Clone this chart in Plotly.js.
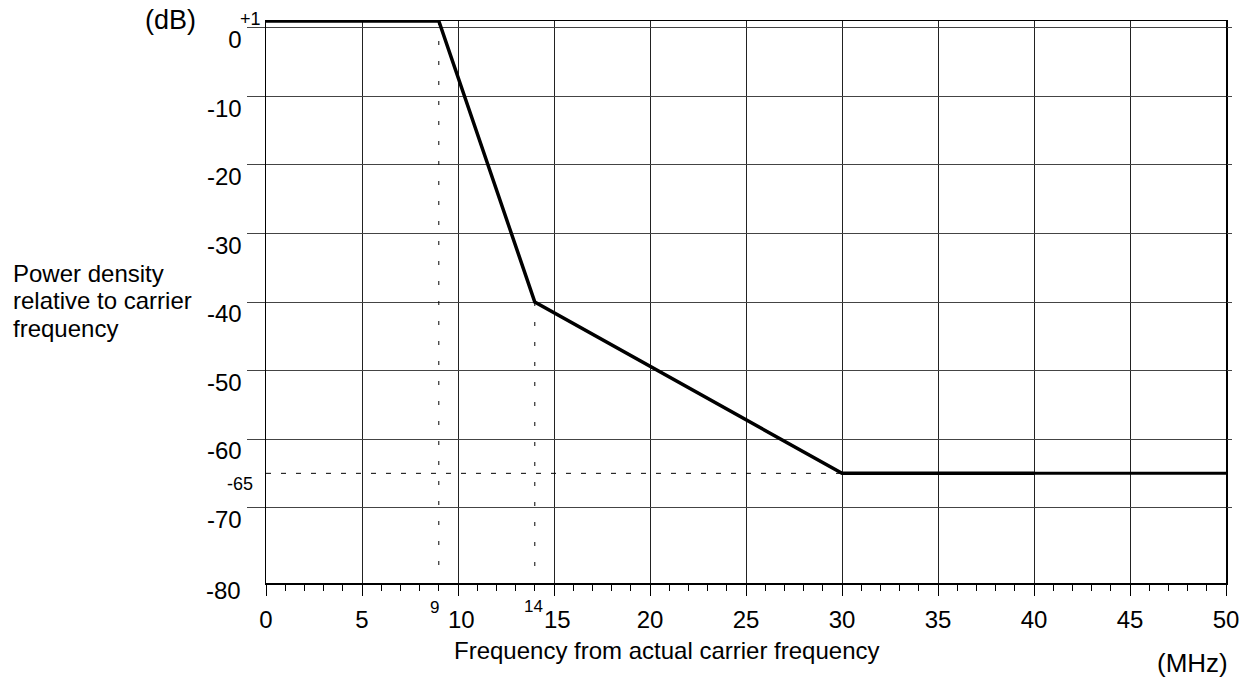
<!DOCTYPE html>
<html>
<head>
<meta charset="utf-8">
<script src="https://cdn.plot.ly/plotly-3.0.1.min.js"></script>
<style>html,body{margin:0;padding:0;background:#fff;}#chart{width:1247px;height:678px;}</style>
</head>
<body>
<div id="chart"></div>
<script>
// Mask data (frequency in MHz, relative power density in dB)
const maskFreq = [0, 9, 14, 30, 40];
const maskDb = [1, 1, -40, -65, -65];
const tailFreq = [40, 50];
const tailDb = [-65, -65];

// Dotted reference lines
const ref9Freq = [9, 9];
const ref9Db = [1, -80];
const ref14Freq = [14, 14];
const ref14Db = [-40, -80];
const ref65Freq = [0, 30];
const ref65Db = [-65, -65];

// Axis ticks
const xTicks = [0, 5, 10, 15, 20, 25, 30, 35, 40, 45, 50];
const xTickText = ['0', '5', '\u00a010', '\u00a015', '20', '25', '30', '35', '40', '45', '50'];
const yTicks = [0, -10, -20, -30, -40, -50, -60, -70];
const yBottomLabel = -80;

const FONT = 'Liberation Sans, Arial, sans-serif';

const traces = [
  {x: ref9Freq, y: ref9Db, mode: 'lines', line: {color: '#000', width: 1, dash: '4px,16px'}, hoverinfo: 'skip'},
  {x: ref14Freq, y: ref14Db, mode: 'lines', line: {color: '#000', width: 1, dash: '4px,16px'}, hoverinfo: 'skip'},
  {x: ref65Freq, y: ref65Db, mode: 'lines', line: {color: '#000', width: 1, dash: '5px,10px'}, hoverinfo: 'skip', yaxis: 'y2'},
  {x: maskFreq, y: maskDb, mode: 'lines', line: {color: '#000', width: 3.5}, hoverinfo: 'skip'},
  {x: tailFreq, y: tailDb, mode: 'lines', line: {color: '#000', width: 3}, hoverinfo: 'skip'}
];

const layout = {
  width: 1247, height: 678,
  margin: {l: 266, r: 21, t: 21, b: 95},
  paper_bgcolor: '#fff', plot_bgcolor: '#fff',
  showlegend: false,
  font: {family: FONT, color: '#000', size: 24},
  xaxis: {
    range: [0, 50], tickvals: xTicks, ticktext: xTickText,
    showgrid: true, gridcolor: '#222', gridwidth: 1,
    showline: true, linecolor: '#000', linewidth: 1.5, mirror: true,
    ticks: 'outside', ticklen: 11, tickcolor: '#000', tickwidth: 1,
    minor: {dtick: 1, tick0: 0, ticks: 'outside', ticklen: 6, tickcolor: '#000', tickwidth: 1, showgrid: false},
    tickfont: {family: FONT, size: 24, color: '#000'},
    ticklabelstandoff: 4,
    zeroline: false, fixedrange: true
  },
  yaxis: {
    range: [-81, 1], tickvals: yTicks, ticktext: yTicks.map(String),
    showgrid: true, gridcolor: '#444', gridwidth: 1,
    showline: true, linecolor: '#000', linewidth: 1.5, mirror: true,
    ticks: 'outside', ticklen: 18, tickcolor: '#444', tickwidth: 1,
    ticklabelshift: 12,
    tickfont: {family: FONT, size: 24, color: '#000'},
    zeroline: false, fixedrange: true
  },
  yaxis2: {
    range: [-81, 1], overlaying: 'y', side: 'right',
    tickvals: yTicks, showticklabels: false,
    ticks: 'outside', ticklen: 5, tickcolor: '#444', tickwidth: 1,
    showgrid: false, showline: false, zeroline: false, fixedrange: true
  },
  annotations: [
    {x: 0, y: yBottomLabel, xref: 'x', yref: 'y', text: String(yBottomLabel), showarrow: false, xanchor: 'right', yanchor: 'middle', xshift: -23, yshift: -14, font: {family: FONT, size: 24}},
    {x: 0, y: 1, xref: 'x', yref: 'y', text: '+1', showarrow: false, xanchor: 'right', yanchor: 'middle', xshift: -3, yshift: 2, font: {family: FONT, size: 18}},
    {x: 0, y: -65, xref: 'x', yref: 'y', text: '-65', showarrow: false, xanchor: 'right', yanchor: 'top', xshift: -11, yshift: 1, font: {family: FONT, size: 18}},
    {x: 9, y: -81, xref: 'x', yref: 'y', text: '9', showarrow: false, xanchor: 'center', yanchor: 'middle', xshift: -4, yshift: -24, font: {family: FONT, size: 17}},
    {x: 14, y: -81, xref: 'x', yref: 'y', text: '14', showarrow: false, xanchor: 'center', yanchor: 'middle', xshift: -1, yshift: -23, font: {family: FONT, size: 17}},
    {x: -0.099, y: 1.002, xref: 'paper', yref: 'paper', text: '(dB)', showarrow: false, xanchor: 'center', yanchor: 'middle', font: {family: FONT, size: 27}},
    {x: 1.004, y: -0.143, xref: 'paper', yref: 'paper', text: '(MHz)', showarrow: false, xanchor: 'right', yanchor: 'middle', font: {family: FONT, size: 26}},
    {x: 0.4177, y: -0.12, xref: 'paper', yref: 'paper', text: 'Frequency from actual carrier frequency', showarrow: false, xanchor: 'center', yanchor: 'middle', font: {family: FONT, size: 24}},
    {x: -0.2655, y: 0.5516, xref: 'paper', yref: 'paper', text: 'Power density', showarrow: false, xanchor: 'left', yanchor: 'middle', align: 'left', font: {family: FONT, size: 24}},
    {x: -0.2655, y: 0.5027, xref: 'paper', yref: 'paper', text: 'relative to carrier', showarrow: false, xanchor: 'left', yanchor: 'middle', align: 'left', font: {family: FONT, size: 24}},
    {x: -0.2655, y: 0.4537, xref: 'paper', yref: 'paper', text: 'frequency', showarrow: false, xanchor: 'left', yanchor: 'middle', align: 'left', font: {family: FONT, size: 24}}
  ]
};

Plotly.newPlot('chart', traces, layout, {staticPlot: true, displayModeBar: false});
</script>
</body>
</html>
